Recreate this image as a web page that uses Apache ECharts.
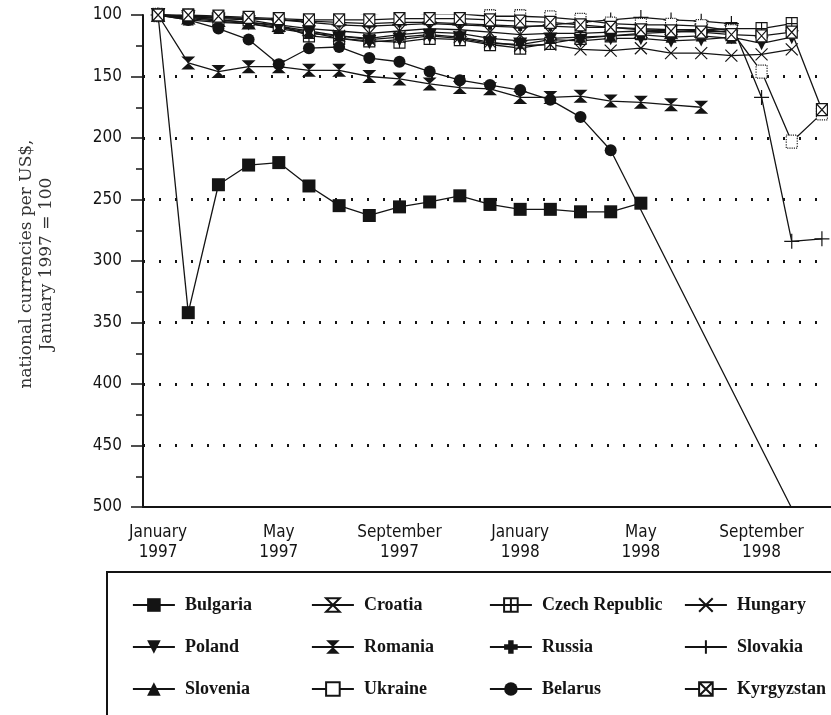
<!DOCTYPE html>
<html>
<head>
<meta charset="utf-8">
<script src="https://cdn.jsdelivr.net/npm/echarts@6/dist/echarts.min.js"></script>
<style>
  html, body { margin: 0; padding: 0; background: #fff; }
  #main { width: 831px; height: 715px; }
</style>
</head>
<body>
<div id="main"></div>
<script>
// months Jan 1997 .. Nov 1998
var months = ['January\n1997','February\n1997','March\n1997','April\n1997','May\n1997','June\n1997',
  'July\n1997','August\n1997','September\n1997','October\n1997','November\n1997','December\n1997',
  'January\n1998','February\n1998','March\n1998','April\n1998','May\n1998','June\n1998',
  'July\n1998','August\n1998','September\n1998','October\n1998','November\n1998'];
var yTicks = [100, 150, 200, 250, 300, 350, 400, 450, 500];

var bulgaria   = [100, 342, 238, 222, 220, 239, 255, 263, 256, 252, 247, 254, 258, 258, 260, 260, 253, null, null, null, null, null, null];
var croatia    = [100, 102, 104, 106, 108, 111, 113, 115, 113, 111, 112, 114, 116, 115, 115, 114, 113, 114, 113, 114, null, null, null];
var czech      = [100, 101, 103, 104, 108, 117, 119, 121, 122, 119, 120, 124, 127, 123, 119, 117, 115, 114, 112, 111, 111, 107, null];
var hungary    = [100, 102, 104, 106, 109, 113, 117, 120, 118, 116, 118, 122, 125, 124, 128, 129, 127, 131, 131, 133, 132, 128, null];
var poland     = [100, 103, 105, 107, 110, 114, 119, 122, 120, 117, 119, 123, 124, 120, 121, 119, 119, 121, 120, 118, 123, 118, null];
var romania    = [100, 139, 146, 142, 142, 145, 145, 150, 152, 156, 159, 160, 167, 167, 166, 170, 171, 173, 175, null, null, null, null];
var russia     = [100, 101, 102, 103, 104, 105, 106, 107, 106, 106, 107, 108, 109, 109, 110, 110, 111, 112, 112, 114, null, null, null];
var slovakia   = [100, 101, 102, 103, 104, 106, 108, 109, 108, 107, 108, 109, 110, 108, 106, 104, 102, 104, 105, 107, 167, 284, 282];
var slovenia   = [100, 104, 106, 107, 111, 115, 117, 119, 116, 114, 115, 119, 121, 119, 118, 117, 116, 118, 117, 119, null, null, null];
var ukraine    = [100, 97, 97, 97, 97, 98, 98, 99, 98, 99, 99, 101, 101, 102, 104, 107, 108, 108, 109, 113, 146, 203, 180];
var belarus    = [100, 104, 111, 120, 140, 127, 126, 135, 138, 146, 153, 157, 161, 169, 183, 210, null, null, null, null, null, 501, null];
var kyrgyzstan = [100, 100, 101, 102, 103, 104, 104, 104, 103, 103, 103, 104, 105, 106, 108, 110, 112, 113, 114, 116, 117, 114, 177];

var ink = '#141414';
var sansNarrow = "'Liberation Sans Narrow', 'DejaVu Sans Condensed', Roboto, sans-serif";

var myChart = echarts.init(document.getElementById('main'));

function line(name, data, symbol, size, filled, extra) {
  var s = {
    name: name,
    type: 'line',
    data: data,
    connectNulls: true,
    symbol: symbol,
    symbolSize: size,
    showAllSymbol: true,
    lineStyle: { color: ink, width: 1.3 },
    itemStyle: {
      color: filled ? ink : '#fff',
      borderColor: ink,
      borderWidth: filled ? 0 : 1.2
    },
    emphasis: { disabled: true }
  };
  if (extra) {
    for (var k in extra) s[k] = extra[k];
  }
  return s;
}

var hourglass = 'path://M0,0H10L5,6L10,12H0L5,6Z';

function legendCol(names, left) {
  return {
    orient: 'vertical',
    left: left,
    top: 591,
    itemWidth: 42,
    itemHeight: 17,
    itemGap: 24,
    selectedMode: false,
    data: names,
    lineStyle: { width: 1.8 },
    textStyle: {
      fontFamily: "'Liberation Serif', 'DejaVu Serif', serif",
      fontWeight: 'bold',
      fontSize: 18,
      color: ink,
      padding: [0, 0, 0, 5]
    }
  };
}

var option = {
  animation: false,
  backgroundColor: '#fff',
  grid: { left: 143, top: 15, width: 694, height: 492, outerBoundsMode: 'none' },
  legend: [
    legendCol(['Bulgaria', 'Poland', 'Slovenia'], 127),
    legendCol(['Croatia', 'Romania', 'Ukraine'], 306),
    legendCol(['Czech Republic', 'Russia', 'Belarus'], 484),
    legendCol(['Hungary', 'Slovakia', 'Kyrgyzstan'], 679)
  ],
  graphic: [
    {
      type: 'rect',
      shape: { x: 107, y: 572, width: 800, height: 200 },
      style: { fill: 'none', stroke: ink, lineWidth: 2 }
    },
    {
      type: 'text',
      x: 37,
      y: 264,
      rotation: Math.PI / 2,
      style: {
        text: 'national currencies per US$,\nJanuary 1997 = 100',
        align: 'center',
        verticalAlign: 'middle',
        lineHeight: 20,
        font: '17px "DejaVu Serif", serif',
        fill: '#333'
      }
    }
  ],
  xAxis: {
    type: 'category',
    data: months,
    boundaryGap: true,
    axisLine: { lineStyle: { color: ink, width: 2 } },
    axisTick: { alignWithLabel: true, interval: 0, length: 9, lineStyle: { color: ink, width: 1.5 } },
    axisLabel: {
      interval: 3,
      margin: 16,
      color: ink,
      fontFamily: sansNarrow,
      fontSize: 17,
      lineHeight: 20
    },
    splitLine: { show: false }
  },
  yAxis: {
    type: 'value',
    inverse: true,
    min: yTicks[0],
    max: yTicks[yTicks.length - 1],
    interval: yTicks[1] - yTicks[0],
    axisLine: { show: true, lineStyle: { color: ink, width: 2 } },
    axisTick: { show: true, length: 12, lineStyle: { color: ink, width: 1.5 } },
    minorTick: { show: true, splitNumber: 2, length: 7, lineStyle: { color: ink, width: 1.5 } },
    axisLabel: {
      margin: 21,
      color: ink,
      fontFamily: sansNarrow,
      fontSize: 17
    },
    splitLine: {
      show: true,
      showMinLine: false,
      showMaxLine: false,
      lineStyle: { color: ink, width: 3, type: [2, 14], dashOffset: 0 }
    }
  },
  series: [
    line('Bulgaria', bulgaria, 'rect', 13, true),
    line('Croatia', croatia, hourglass, [12, 13], false),
    line('Czech Republic', czech, 'path://M0,0H10V10H0Z M5,0V10 M0,5H10', [11, 12], false),
    line('Hungary', hungary, 'path://M0,0L10,10M10,0L0,10', 12, false),
    line('Poland', poland, 'triangle', [14, 14], true, { symbolRotate: 180 }),
    line('Romania', romania, hourglass, [14, 13], true),
    line('Russia', russia, 'path://M3,0H7V3H10V7H7V10H3V7H0V3H3Z', 10, true),
    line('Slovakia', slovakia, 'path://M5,0V10M0,5H10', 15, false),
    line('Slovenia', slovenia, 'triangle', 11, true),
    line('Ukraine', ukraine, 'rect', [11, 13], false, {
      itemStyle: { color: '#fff', borderColor: ink, borderWidth: 1.2, borderType: 'dotted' }
    }),
    line('Belarus', belarus, 'circle', 12, true),
    line('Kyrgyzstan', kyrgyzstan, 'path://M0,0H10V10H0Z M0,0L10,10 M10,0L0,10', [11, 12], false)
  ]
};

option && myChart.setOption(option);
window.addEventListener('resize', function () {
  myChart.resize();
});
</script>
</body>
</html>
